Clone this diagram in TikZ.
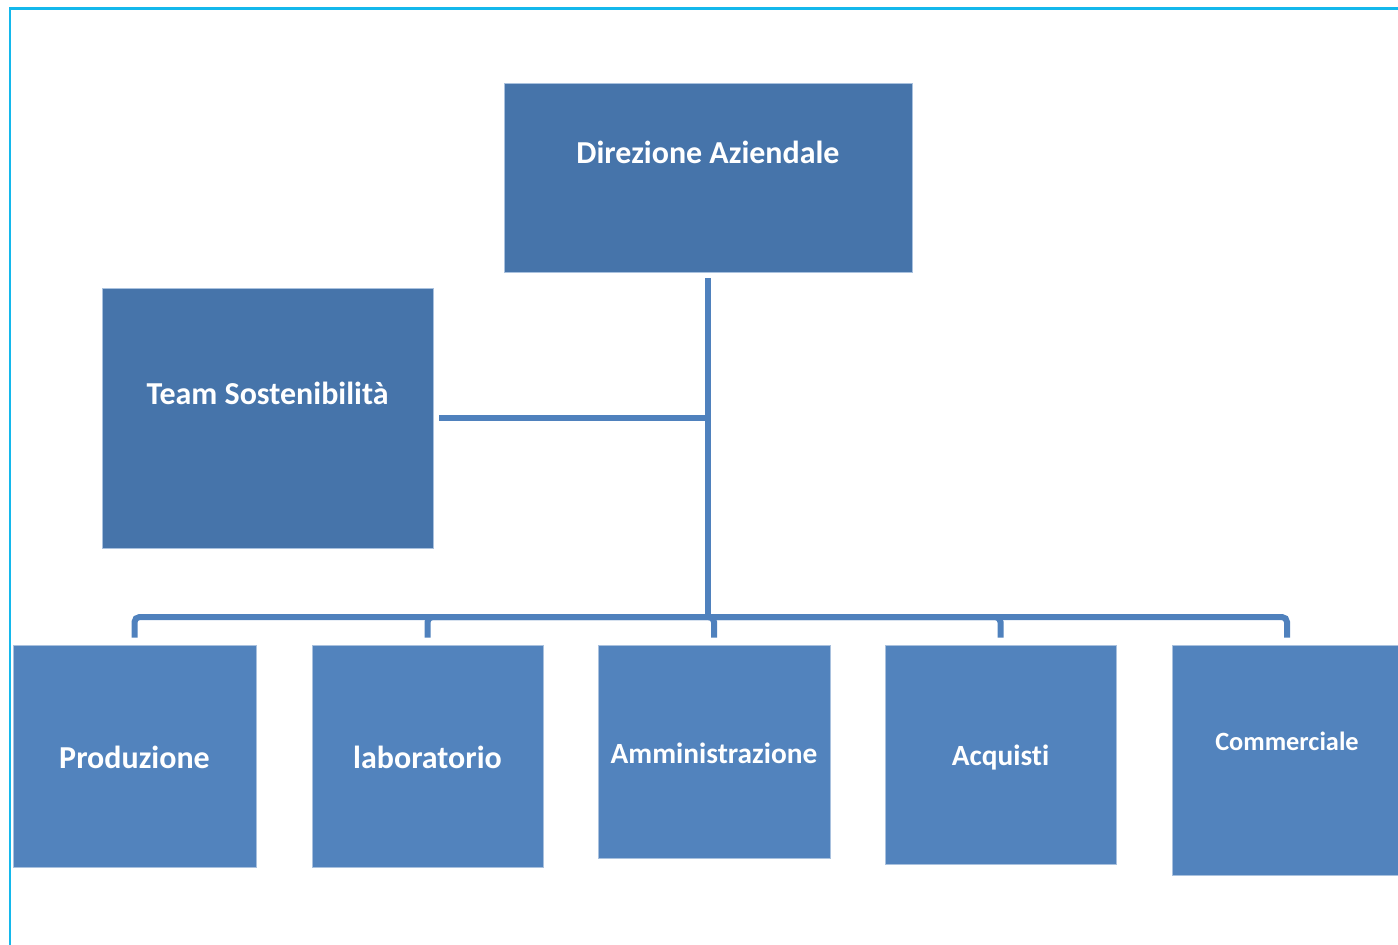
\documentclass[tikz,border=0pt]{standalone}
\usepackage{fontspec}
\setmainfont{Carlito}[Ligatures=NoCommon]
\usetikzlibrary{positioning}
\definecolor{topblue}{RGB}{70,116,170}
\definecolor{unitblue}{RGB}{82,131,189}
\definecolor{linkblue}{RGB}{79,129,189}
\definecolor{framecyan}{RGB}{20,184,236}

\begin{document}
\begin{tikzpicture}[x=0.02cm, y=-0.02cm,
    box/.style={rectangle, draw=white!50!unitblue, line width=0.4pt, text=white,
                font=\bfseries\fontsize{18.2}{22}\selectfont, inner sep=0pt, text height=0.5cm},
    head/.style={box, fill=topblue},
    unit/.style={box, fill=unitblue},
    link/.style={draw=linkblue, line width=0.12cm, rounded corners=0.1cm}
]
\useasboundingbox (0,0) rectangle (1398,944);

% Frame
\draw[framecyan, line width=0.06cm] (10,1000) -- (10,8) -- (1450,8);

% Management
\node[head, minimum width=8.16cm, minimum height=3.78cm, text depth=1.06cm] (dir) at (708,177.5) {Direzione Aziendale};
\node[head, minimum width=6.62cm, minimum height=5.2cm, text depth=1.04cm] (team) at (267.5,418) {Team Sostenibilità};

% Departments
\node[unit, minimum width=4.86cm, minimum height=4.44cm, text depth=0.02cm] (prod) at (134.5,756) {Produzione};
\node[unit, minimum width=4.62cm, minimum height=4.44cm, text depth=0.02cm] (lab) at (427.5,756) {laboratorio};
\node[unit, minimum width=4.64cm, minimum height=4.26cm, text depth=0.01cm,
      font=\bfseries\fontsize{16.7}{20}\selectfont] (amm) at (714,751.5) {Amministrazione};
\node[unit, minimum width=4.62cm, minimum height=4.38cm, text depth=0.06cm,
      font=\bfseries\fontsize{16.7}{20}\selectfont] (acq) at (1000.5,754.5) {Acquisti};
\node[unit, minimum width=4.6cm, minimum height=4.6cm, text depth=0.9cm,
      font=\bfseries\fontsize{15}{18}\selectfont] (comm) at (1287,760) {Commerciale};

% Connectors
\coordinate (hub) at (708,617);
\draw[link, shorten <=0.12cm] (dir.south) -- (hub);
\draw[link, shorten <=0.12cm] (team.east) -- (team.east -| dir.south);
\foreach \u in {prod,lab,amm,acq,comm}
  \draw[link, shorten >=0.14cm] (hub) -| (\u.north);

\end{tikzpicture}
\end{document}
